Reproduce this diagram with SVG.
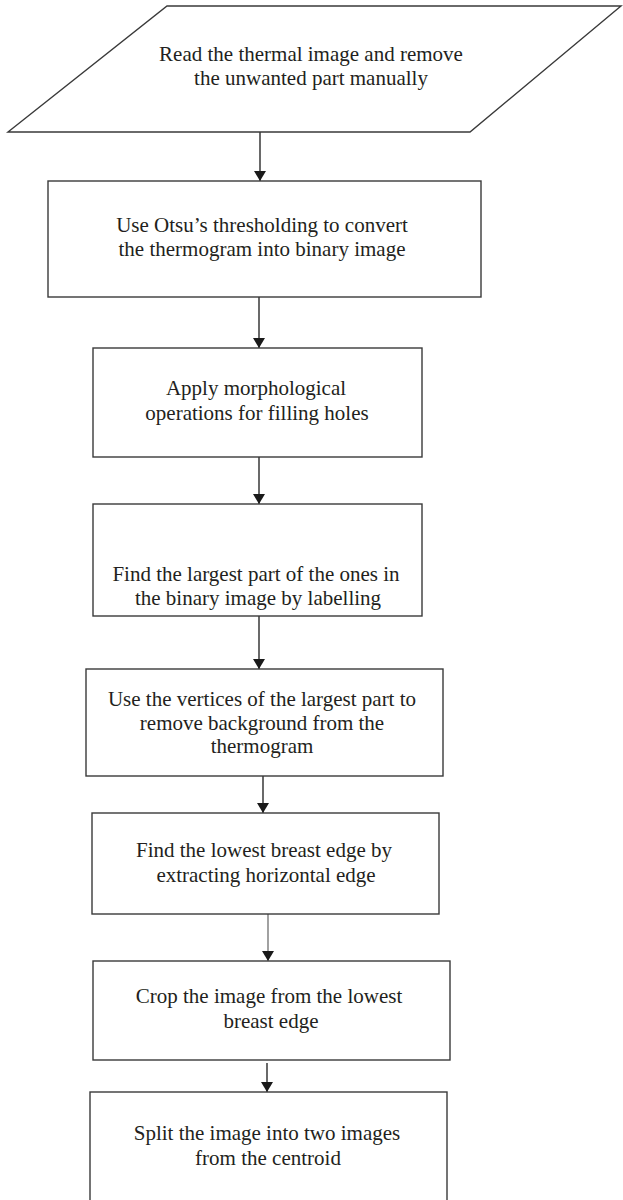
<svg xmlns="http://www.w3.org/2000/svg" width="623" height="1200" viewBox="0 0 623 1200">
<style>
.shape{fill:#ffffff;stroke:#3a3a3a;stroke-width:1.4}
.lbl{font-family:"Liberation Serif","DejaVu Serif",serif;font-size:21px;fill:#231f20;text-anchor:middle}
.conn{stroke:#2a2a2a;stroke-width:1.4;fill:none}
</style>
<defs>
<marker id="arr" viewBox="0 0 10 12" refX="10" refY="6" markerWidth="10" markerHeight="12" markerUnits="userSpaceOnUse" orient="auto">
<path d="M0,0 L10,6 L0,12 Z" fill="#1a1a1a"/>
</marker>
</defs>
<rect width="623" height="1200" fill="#ffffff"/>
<g id="connectors">
<line class="conn" x1="260" y1="132" x2="260" y2="181" marker-end="url(#arr)"/>
<line class="conn" x1="259" y1="297" x2="259" y2="348" marker-end="url(#arr)"/>
<line class="conn" x1="259" y1="457" x2="259" y2="504" marker-end="url(#arr)"/>
<line class="conn" x1="259" y1="616" x2="259" y2="669" marker-end="url(#arr)"/>
<line class="conn" x1="263" y1="776" x2="263" y2="813" marker-end="url(#arr)"/>
<line class="conn" x1="268" y1="914" x2="268" y2="961" marker-end="url(#arr)" style="stroke:#555;stroke-width:1.1"/>
<line class="conn" x1="267" y1="1063" x2="267" y2="1092" marker-end="url(#arr)"/>
</g>
<g id="n1">
<polygon class="shape" points="167,6 621,6 470,132 8,132"/>
<text class="lbl" x="311" y="61">Read the thermal image and remove</text>
<text class="lbl" x="311" y="85">the unwanted part manually</text>
</g>
<g id="n2">
<rect class="shape" x="48" y="181" width="433" height="116"/>
<text class="lbl" x="262" y="232">Use Otsu’s thresholding to convert</text>
<text class="lbl" x="262" y="256">the thermogram into binary image</text>
</g>
<g id="n3">
<rect class="shape" x="93" y="348" width="329" height="109"/>
<text class="lbl" x="256" y="395">Apply morphological</text>
<text class="lbl" x="257" y="420">operations for filling holes</text>
</g>
<g id="n4">
<rect class="shape" x="93" y="504" width="329" height="112"/>
<text class="lbl" x="256" y="581">Find the largest part of the ones in</text>
<text class="lbl" x="258" y="605">the binary image by labelling</text>
</g>
<g id="n5">
<rect class="shape" x="86" y="669" width="357" height="107"/>
<text class="lbl" x="262" y="706">Use the vertices of the largest part to</text>
<text class="lbl" x="262" y="730">remove background from the</text>
<text class="lbl" x="262" y="753">thermogram</text>
</g>
<g id="n6">
<rect class="shape" x="92" y="813" width="347" height="101"/>
<text class="lbl" x="264" y="857">Find the lowest breast edge by</text>
<text class="lbl" x="266" y="882">extracting horizontal edge</text>
</g>
<g id="n7">
<rect class="shape" x="93" y="961" width="357" height="99"/>
<text class="lbl" x="269" y="1003">Crop the image from the lowest</text>
<text class="lbl" x="271" y="1028">breast edge</text>
</g>
<g id="n8">
<rect class="shape" x="90" y="1092" width="357" height="115"/>
<text class="lbl" x="267" y="1140">Split the image into two images</text>
<text class="lbl" x="268" y="1165">from the centroid</text>
</g>
</svg>
